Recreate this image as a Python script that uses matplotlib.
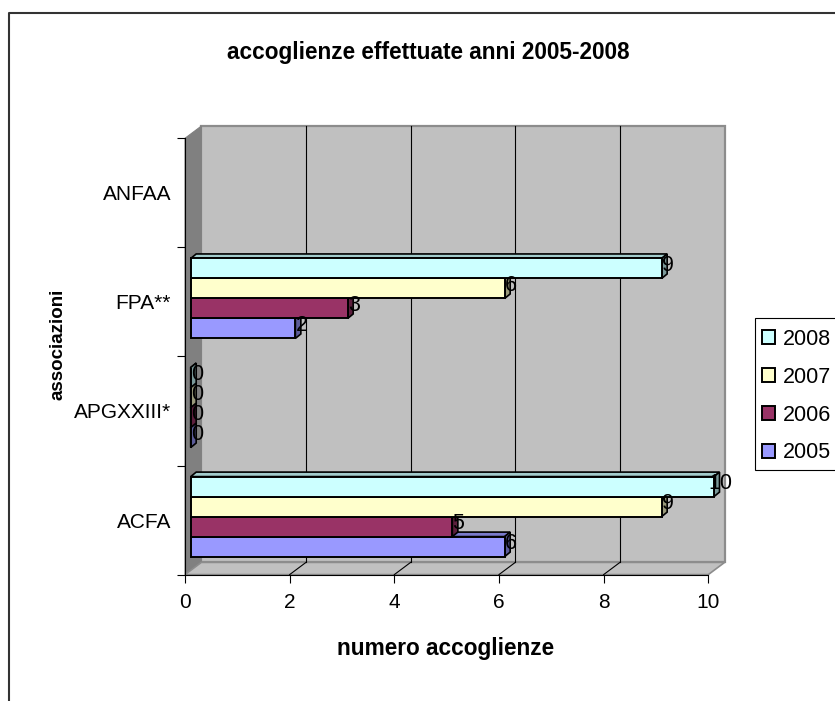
import matplotlib
matplotlib.use("Agg")
import matplotlib.pyplot as plt
from matplotlib.patches import Patch, Polygon, Rectangle

plt.rcParams['font.family'] = ['Liberation Sans', 'DejaVu Sans']

W, H = 835, 701

categories = ["ACFA", "APGXXIII*", "FPA**", "ANFAA"]
years = ["2005", "2006", "2007", "2008"]
# ANFAA has no bars and no labels in the picture
v2005 = [6, 0, 2, None]
v2006 = [5, 0, 3, None]
v2007 = [9, 0, 6, None]
v2008 = [10, 0, 9, None]
series = [v2005, v2006, v2007, v2008]

colors = ["#9999FF", "#993366", "#FFFFCC", "#CCFFFF"]
side_colors = ["#5C5C99", "#5C1F3D", "#99997A", "#7A9999"]
top_colors = ["#7A7ACC", "#7A2952", "#CCCCA3", "#A3CCCC"]
xticks = [0, 2, 4, 6, 8, 10]

# plot box in pixels
left, right, top, bottom = 185, 708.3, 138.3, 574.6
ux = (right - left) / 10   # px per value
uy = (bottom - top) / 4    # px per category

fig = plt.figure(figsize=(W / 100, H / 100), dpi=100)
ax = fig.add_axes([left / W, 1 - bottom / H, (right - left) / W, (bottom - top) / H])
ax.set_xlim(0, 10)
ax.set_ylim(0, 4)

# depth of the fake 3d walls and bars
wall_dx, wall_dy = 16.3 / ux, 12.2 / uy
bar_dx, bar_dy = 5.5 / ux, 4.5 / uy
bar_left = 5.7 / ux
bar_h = 20 / uy
bar_base = 18 / uy

# walls
ax.add_patch(Polygon([(wall_dx, wall_dy), (10 + wall_dx, wall_dy), (10 + wall_dx, 4 + wall_dy), (wall_dx, 4 + wall_dy)],
                     fc="#C0C0C0", ec="#8C8C8C", lw=1.6, clip_on=False, zorder=1))
ax.add_patch(Polygon([(0, 0), (wall_dx, wall_dy), (wall_dx, 4 + wall_dy), (0, 4)],
                     fc="#808080", ec="#808080", lw=0.8, clip_on=False, zorder=1))
ax.add_patch(Polygon([(0, 0), (10, 0), (10 + wall_dx, wall_dy), (wall_dx, wall_dy)],
                     fc="#C0C0C0", ec="#8C8C8C", lw=1.2, clip_on=False, zorder=1))

for t in xticks[1:-1]:
    ax.plot([t + wall_dx, t + wall_dx], [wall_dy, 4 + wall_dy], color="black", lw=0.8, clip_on=False, zorder=2)
    ax.plot([t, t + wall_dx], [0, wall_dy], color="black", lw=0.8, clip_on=False, zorder=2)

# bars, bottom one first so each front covers the top of the one below
z = 3
for c in range(len(categories)):
    for s in range(len(series)):
        v = series[s][c]
        if v is None:
            continue
        y0 = c + bar_base + s * bar_h
        x1 = bar_left + v
        y1 = y0 + bar_h
        ax.add_patch(Polygon([(bar_left, y1), (x1, y1), (x1 + bar_dx, y1 + bar_dy), (bar_left + bar_dx, y1 + bar_dy)],
                             fc=top_colors[s], ec="black", lw=1.2, clip_on=False, zorder=z))
        ax.add_patch(Polygon([(x1, y0), (x1 + bar_dx, y0 + bar_dy), (x1 + bar_dx, y1 + bar_dy), (x1, y1)],
                             fc=side_colors[s], ec="black", lw=1.2, clip_on=False, zorder=z))
        ax.barh(y0, v, height=bar_h, left=bar_left, align="edge", color=colors[s], edgecolor="black",
                linewidth=1.4, clip_on=False, zorder=z + 0.5)
        ax.text(x1 + bar_dx * 1.1, y0 + bar_h / 2 + 2.8 / uy, str(v), ha="center", va="center",
                fontsize=15.5, color="black", zorder=20)
        z += 1

ax.set_xticks(xticks)
ax.set_yticks(range(5))
ax.set_yticklabels([])
ax.set_yticks([i + 0.5 for i in range(4)], categories, minor=True)
ax.tick_params(axis="both", which="major", length=6, width=0.8, color="black", labelsize=15, pad=7)
ax.tick_params(axis="y", which="minor", length=0, labelsize=15, pad=10)
ax.spines["top"].set_visible(False)
ax.spines["right"].set_visible(False)
ax.spines["left"].set_zorder(2.5)
ax.spines["bottom"].set_zorder(2.5)
ax.patch.set_alpha(0)

fig.text(428 / W, 1 - 53 / H, "accoglienze effettuate anni 2005-2008", ha="center", va="center",
         fontsize=16.3, fontweight="bold")
fig.text(446 / W, 1 - 649 / H, "numero accoglienze", ha="center", va="center", fontsize=16.3, fontweight="bold")
fig.text(58 / W, 1 - 344 / H, "associazioni", ha="center", va="center", rotation=90, fontsize=13.5, fontweight="bold")

# outer chart frame: only left and top show, the rest is cut off
fig.add_artist(plt.Line2D([9 / W, 9 / W, 1], [0, 1 - 13 / H, 1 - 13 / H], color="#333333", lw=1.5))

# legend box runs off the right edge
fig.add_artist(Rectangle((754.5 / W, 1 - 470 / H), 90 / W, 152 / H, fc="white", ec="black", lw=0.8,
                         transform=fig.transFigure))
handles = [Patch(fc=colors[i], ec="black", lw=1.4, label=years[i]) for i in range(3, -1, -1)]
fig.legend(handles=handles, loc="upper left", bbox_to_anchor=(761.5 / W, 1 - 329 / H), frameon=False,
           fontsize=15.5, handlelength=0.62, handleheight=0.62, handletextpad=0.36, labelspacing=0.78,
           borderaxespad=0, borderpad=0)

fig.savefig("out.png", dpi=100)
